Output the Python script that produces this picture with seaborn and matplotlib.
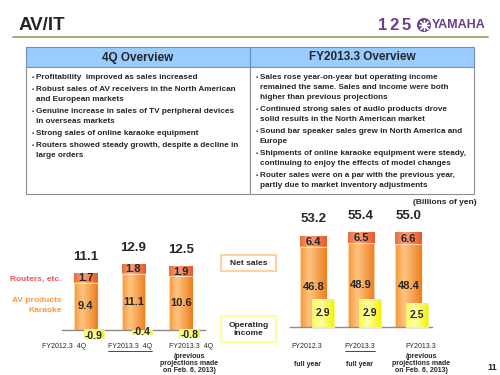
import numpy as np
import matplotlib
matplotlib.use('Agg')
import matplotlib.pyplot as plt
from matplotlib.colors import LinearSegmentedColormap
from matplotlib.patches import Rectangle, Circle
import seaborn as sns

sns.set_style('white')
plt.rcParams['font.family'] = ['Liberation Sans', 'DejaVu Sans']

# ---- data (billions of yen) ----
q_labels = ['FY2012.3  4Q', 'FY2013.3  4Q', 'FY2013.3  4Q']
q_av = [9.4, 11.1, 10.6]
q_routers = [1.7, 1.8, 1.9]
q_sales = [11.1, 12.9, 12.5]
q_opinc = [-0.9, -0.4, -0.8]

y_labels = ['FY2012.3', 'FY2013.3', 'FY2013.3']
y_sub = ['full year', 'full year', '']
y_av = [46.8, 48.9, 48.4]
y_routers = [6.4, 6.5, 6.6]
y_sales = [53.2, 55.4, 55.0]
y_opinc = [2.9, 2.9, 2.5]

note_lines = ['(previous', 'projections made', 'on Feb. 6, 2013)']

overview_4q = [
    ['Profitability  improved as sales increased'],
    ['Robust sales of AV receivers in the North American', 'and European markets'],
    ['Genuine increase in sales of TV peripheral devices', 'in overseas markets'],
    ['Strong sales of online karaoke equipment'],
    ['Routers showed steady growth, despite a decline in', 'large orders'],
]
overview_fy = [
    ['Sales rose year-on-year but operating income', 'remained the same. Sales and income were both',
     'higher than previous projections'],
    ['Continued strong sales of audio products drove', 'solid results in the North American market'],
    ['Sound bar speaker sales grew in North America and', 'Europe'],
    ['Shipments of online karaoke equipment were steady,', 'continuing to enjoy the effects of model changes'],
    ['Router sales were on a par with the previous year,', 'partly due to market inventory adjustments'],
]

# ---- colours ----
purple = '#6b3f8e'
cm_av = LinearSegmentedColormap.from_list('av', [(0, '#f79a36'), (0.35, '#ffc482'), (1, '#ec7e1c')])
cm_rt = LinearSegmentedColormap.from_list('rt', [(0, '#ee6a3a'), (0.35, '#f8a27c'), (1, '#e65a2a')])
cm_op = LinearSegmentedColormap.from_list('op', [(0, '#ffff40'), (0.4, '#ffffb0'), (1, '#f4f400')])

fig = plt.figure(figsize=(5, 3.75), dpi=100)
bg = fig.add_axes([0, 0, 1, 1])
bg.set_xlim(0, 500)
bg.set_ylim(375, 0)
bg.axis('off')

# header
bg.text(19, 25, 'AV/IT', fontsize=13.5, fontweight='bold', va='center')
bg.plot([13, 488], [37, 37], color='#a39f66', lw=1.3)
for k, d in enumerate('125'):
    bg.text(383 + k * 11.5, 25.5, d, fontsize=12, fontweight='bold', color=purple, ha='center', va='center')
bg.add_patch(Circle((424, 25), 6.3, color=purple))
bg.plot(424, 25, marker=(8, 2, 0), ms=8, color='white', mew=0.9)
bg.text(432, 25.5, 'YAMAHA', fontsize=9, fontweight='bold', color=purple, va='center')

# overview table
for x0, title, bullets, bx in [(26, '4Q Overview', overview_4q, 32), (250, 'FY2013.3 Overview', overview_fy, 256)]:
    bg.add_patch(Rectangle((x0, 47), 224, 20, facecolor='#99ccff', edgecolor='#6f8fb5', lw=0.8))
    bg.add_patch(Rectangle((x0, 67), 224, 127, facecolor='white', edgecolor='#8f8f8f', lw=0.8))
    bg.text(x0 + 112, 57.5, title, fontsize=8.5, fontweight='bold', ha='center', va='center')
    yy = 77.5
    for lines in bullets:
        bg.text(bx, yy, '\u2022', fontsize=4.5, fontweight='bold', va='center')
        for ln in lines:
            bg.text(bx + 4, yy, ln, fontsize=5.9, fontweight='bold', va='center')
            yy += 10.2
        yy += 1.6

bg.text(477, 203, '(Billions of yen)', fontsize=6, fontweight='bold', ha='right', va='center')

# legend-ish labels
bg.text(62, 279, 'Routers, etc.', fontsize=6, fontweight='bold', color='#f25555', ha='right', va='center')
bg.text(62, 301, 'AV products', fontsize=6, fontweight='bold', color='#ff9933', ha='right', va='center')
bg.text(62, 311, 'Karaoke', fontsize=6, fontweight='bold', color='#ff9933', ha='right', va='center')

bg.add_patch(Rectangle((221, 255), 55, 16, facecolor='white', edgecolor='#ffc78e', lw=1.2))
bg.text(248.5, 263.5, 'Net sales', fontsize=6, fontweight='bold', ha='center', va='center')
bg.add_patch(Rectangle((221, 316), 55, 26, facecolor='white', edgecolor='#ffff80', lw=1.2))
bg.text(248.5, 329.5, 'Operating\nincome', fontsize=6, fontweight='bold', ha='center', va='center',
        linespacing=1.15)
bg.text(492, 367, '11', fontsize=6.5, fontweight='bold', ha='center', va='center')


def shade(ax, bars, cmap, z, edge=None, lw=0):
    grad = np.linspace(0, 1, 100).reshape(1, -1)
    for p in bars:
        x0, y0 = p.get_x(), p.get_y()
        x1, y1 = x0 + p.get_width(), y0 + p.get_height()
        ax.imshow(grad, cmap=cmap, aspect='auto', interpolation='bicubic',
                  extent=[x0, x1, min(y0, y1), max(y0, y1)], zorder=z)
        p.set_facecolor('none')
        p.set_edgecolor(edge if edge else 'none')
        p.set_linewidth(lw)
        p.set_zorder(z + 0.05)


def panel(rect, av, routers, sales, opinc, ylim, ylim2, w, w2, dx):
    ax = fig.add_axes(rect)
    ax.patch.set_alpha(0)
    pos = np.arange(len(av))
    sns.barplot(x=pos, y=sales, native_scale=True, width=w, color='#ee6a3a', saturation=1,
                errorbar=None, ax=ax)
    n = len(ax.patches)
    sns.barplot(x=pos, y=av, native_scale=True, width=w, color='#f7a040', saturation=1,
                errorbar=None, ax=ax)
    shade(ax, ax.patches[:n], cm_rt, 1)
    shade(ax, ax.patches[n:], cm_av, 1.5, edge='#fff2e0', lw=0.5)

    ax2 = ax.twinx()
    sns.barplot(x=pos + dx, y=opinc, native_scale=True, width=w2, color='#ffff40', saturation=1,
                errorbar=None, ax=ax2)
    shade(ax2, ax2.patches, cm_op, 1, edge='#f3f38a', lw=0.8)

    ax.set_xlim(-0.5, len(av) - 0.5)
    ax.set_ylim(*ylim)
    ax2.set_ylim(*ylim2)
    for s in ['top', 'left', 'right']:
        ax.spines[s].set_visible(False)
    for s in ax2.spines.values():
        s.set_visible(False)
    ax.spines['bottom'].set_position(('data', 0))
    ax.spines['bottom'].set_color('#8c8c8c')
    ax.spines['bottom'].set_linewidth(1)
    ax.set_xticks(np.arange(len(av) + 1) - 0.5)
    ax.tick_params(axis='x', direction='in', length=3, color='#8c8c8c', labelbottom=False)
    ax.set_yticks([])
    ax2.set_yticks([])
    ax.set_xlabel('')
    ax.set_ylabel('')
    ax2.set_ylabel('')

    for i in pos:
        ax.text(i, av[i] / 2, f'{av[i]:.1f}', ha='center', va='center', fontsize=8, fontweight='bold', zorder=5)
        ax.text(i, av[i] + routers[i] / 2, f'{routers[i]:.1f}', ha='center', va='center', fontsize=8,
                fontweight='bold', zorder=5)
        ax.annotate(f'{sales[i]:.1f}', (i, sales[i]), xytext=(0, 12), textcoords='offset points',
                    ha='center', va='center', fontsize=9.5, fontweight='bold')
        if opinc[i] < 0:
            ax2.annotate(f'{opinc[i]:.1f}', (i + dx, opinc[i]), xytext=(0, 1.5), textcoords='offset points',
                         ha='center', va='center', fontsize=7.5, fontweight='bold', zorder=5)
        else:
            ax2.text(i + dx, opinc[i] / 2, f'{opinc[i]:.1f}', ha='center', va='center', fontsize=7.5,
                     fontweight='bold', zorder=5)
    return ax


# quarterly panel: baseline at y=330px, 5.05 px per bn (sales), 9.3 px per bn (op. income)
panel([62 / 500, 1 - 345 / 375, 143 / 500, 115 / 375], q_av, q_routers, q_sales, q_opinc,
      (-15 / 5.05, 100 / 5.05), (-15 / 9.3, 100 / 9.3), 0.5, 0.42, 0.17)
# full-year panel: baseline at y=327px, 1.71 px per bn (sales), 9.4 px per bn (op. income)
panel([290 / 500, 1 - 345 / 375, 142 / 500, 145 / 375], y_av, y_routers, y_sales, y_opinc,
      (-18 / 1.71, 127 / 1.71), (-18 / 9.4, 127 / 9.4), 0.56, 0.46, 0.19)

# category labels
under = []
for k, (lab, x) in enumerate(zip(q_labels, [64, 130, 191])):
    t = bg.text(x, 347, lab, fontsize=5, ha='center', va='center')
    if k == 1:
        under.append(t)
for k, (lab, sub, x) in enumerate(zip(y_labels, y_sub, [307, 360, 421])):
    t = bg.text(x, 347, lab, fontsize=5, ha='center', va='center')
    if sub:
        bg.text(x, 364, sub, fontsize=5, fontweight='bold', ha='center', va='center')
    if k == 1:
        under.append(t)
for x in [189, 421]:
    for j, ln in enumerate(note_lines):
        bg.text(x, 357 + j * 6.5, ln, fontsize=5, fontweight='bold', ha='center', va='center',
                linespacing=1.0)

fig.canvas.draw()
inv = bg.transData.inverted()
for t in under:
    bb = t.get_window_extent()
    (xa, ya), (xb, yb) = inv.transform([(bb.x0, bb.y0), (bb.x1, bb.y0)])
    bg.plot([xa, xb], [ya + 0.6, ya + 0.6], color='black', lw=0.5)

fig.savefig('out.png', dpi=100)
